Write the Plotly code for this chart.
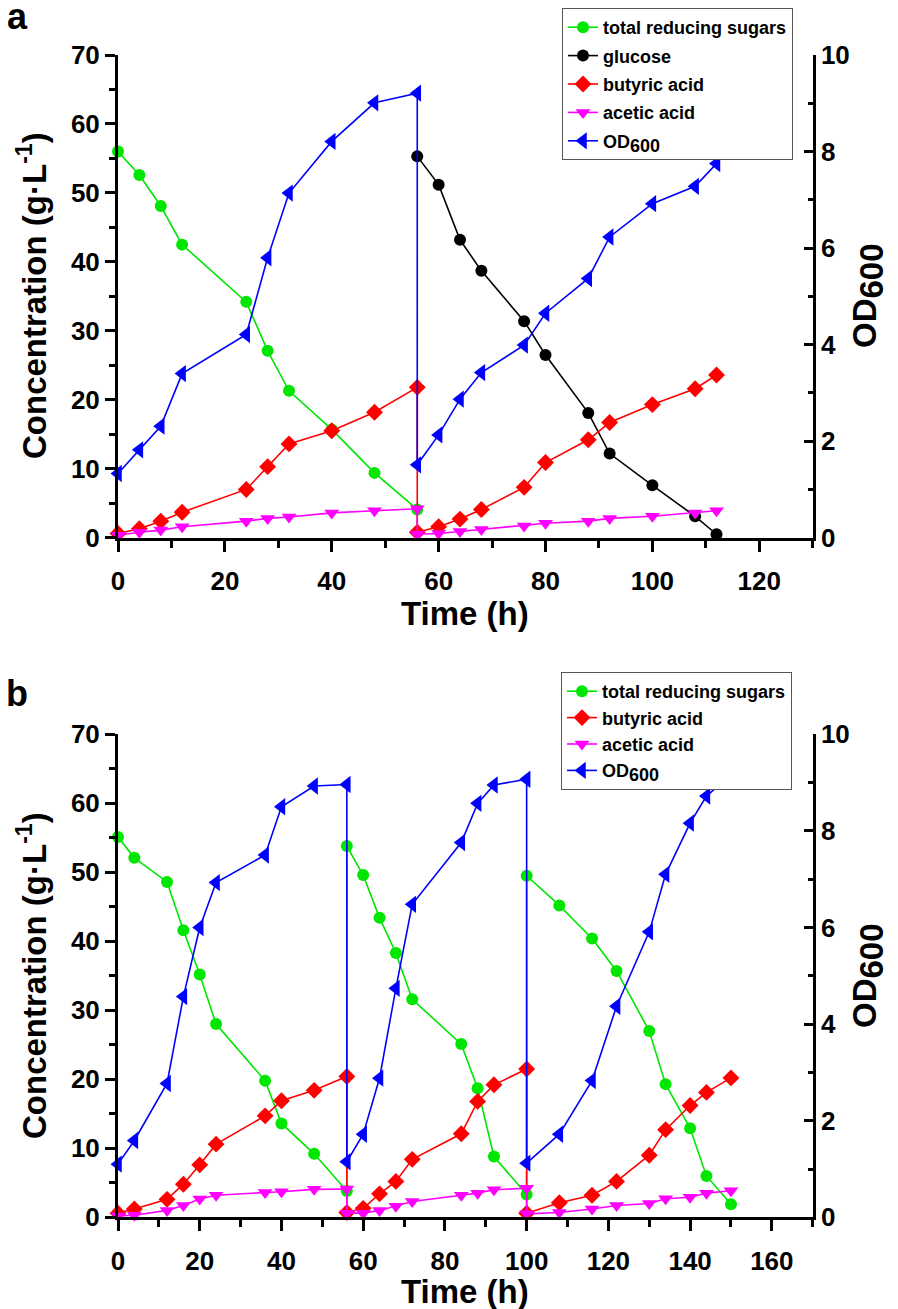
import plotly.graph_objects as go

###############################################################################
# Panel a data                                                                #
###############################################################################
t_sugar_a = [0, 4, 8, 12, 24, 28, 32, 40, 48, 56]
sugar_a = [56.0, 52.6, 48.1, 42.5, 34.2, 27.1, 21.3, 15.7, 9.4, 4.1]

t_glucose_a = [56, 60, 64, 68, 76, 80, 88, 92, 100, 108, 112]
glucose_a = [55.3, 51.2, 43.2, 38.7, 31.4, 26.5, 18.1, 12.2, 7.6, 3.1, 0.5]

t_a = [0, 4, 8, 12, 24, 28, 32, 40, 48, 56, 56, 60, 64, 68, 76, 80, 88, 92, 100, 108, 112]
butyric_a = [0.6, 1.3, 2.4, 3.7, 7.0, 10.3, 13.6, 15.5, 18.2, 21.8,
             0.8, 1.6, 2.7, 4.1, 7.3, 10.9, 14.2, 16.7, 19.3, 21.6, 23.6]
acetic_a = [0.35, 0.8, 1.1, 1.6, 2.4, 2.8, 3.0, 3.6, 3.9, 4.2,
            0.5, 0.6, 0.9, 1.2, 1.7, 2.1, 2.4, 2.8, 3.1, 3.6, 3.9]
od_a = [1.33, 1.82, 2.31, 3.40, 4.21, 5.80, 7.14, 8.21, 9.01, 9.21,
        1.51, 2.13, 2.87, 3.42, 3.99, 4.65, 5.37, 6.23, 6.92, 7.28, 7.75]

###############################################################################
# Panel b data                                                                #
###############################################################################
t_b = [0, 4, 12, 16, 20, 24, 36, 40, 48, 56,
       56, 60, 64, 68, 72, 84, 88, 92, 100,
       100, 108, 116, 122, 130, 134, 140, 144, 150]
sugar_b = [55.1, 52.1, 48.6, 41.6, 35.2, 28.0, 19.8, 13.6, 9.2, 3.8,
           53.8, 49.6, 43.4, 38.3, 31.6, 25.1, 18.7, 8.8, 3.3,
           49.5, 45.2, 40.4, 35.7, 27.0, 19.3, 12.9, 6.0, 1.9]
butyric_b = [0.6, 1.2, 2.6, 4.8, 7.6, 10.6, 14.7, 16.9, 18.4, 20.4,
             0.7, 1.3, 3.4, 5.2, 8.4, 12.1, 16.8, 19.2, 21.5,
             0.6, 2.1, 3.2, 5.2, 9.0, 12.7, 16.2, 18.1, 20.2]
acetic_b = [0.2, 0.3, 1.0, 1.7, 2.65, 3.2, 3.6, 3.7, 4.05, 4.1,
            0.6, 0.6, 1.0, 1.6, 2.3, 3.2, 3.5, 4.0, 4.2,
            0.5, 0.7, 1.2, 1.7, 2.0, 2.7, 2.9, 3.5, 3.85]
od_b = [1.10, 1.59, 2.77, 4.57, 6.00, 6.93, 7.50, 8.50, 8.93, 8.96,
        1.15, 1.72, 2.88, 4.74, 6.48, 7.76, 8.57, 8.95, 9.07,
        1.12, 1.72, 2.83, 4.37, 5.91, 7.10, 8.16, 8.72, 9.16]

GREEN = "rgb(0,230,0)"
FONT = "Arial, Liberation Sans, sans-serif"
OD_LEG = "OD<sub><span style='font-size:18px'>600</span></sub>"
OD_TITLE = "OD<sub><span style='font-size:33px'>600</span></sub>"

# the page body has an 8px margin, so the figure is drawn 8px in from the corner
OFF = 8
W, H = 898 - OFF, 1309 - OFF
def px_x(p):
    return (p - OFF) / W
def px_y(p):
    return 1 - (p - OFF) / H

fig = go.Figure()

def add(x, y, name, color, symbol, xa, ya, legend, size=12):
    fig.add_trace(go.Scatter(
        x=x, y=y, name=name, mode="lines+markers",
        line=dict(color=color, width=1.6),
        marker=dict(color=color, symbol=symbol, size=size),
        xaxis=xa, yaxis=ya, legend=legend, legendgroup=legend + name,
        cliponaxis=False))

# panel a
add(t_sugar_a, sugar_a, "total reducing sugars", GREEN, "circle", "x", "y", "legend")
add(t_glucose_a, glucose_a, "glucose", "black", "circle", "x", "y", "legend")
add(t_a, butyric_a, "butyric acid", "red", "diamond", "x", "y", "legend", 13)
add(t_a, acetic_a, "acetic acid", "magenta", "triangle-down", "x", "y", "legend", 13)
add(t_a, od_a, OD_LEG, "blue", "triangle-left", "x", "y2", "legend", 15)

# panel b
add(t_b, sugar_b, "total reducing sugars", GREEN, "circle", "x2", "y3", "legend2")
add(t_b, butyric_b, "butyric acid", "red", "diamond", "x2", "y3", "legend2", 13)
add(t_b, acetic_b, "acetic acid", "magenta", "triangle-down", "x2", "y3", "legend2", 13)
add(t_b, od_b, OD_LEG, "blue", "triangle-left", "x2", "y4", "legend2", 15)

tickfont = dict(family=FONT, size=26, color="black", weight="bold")
common = dict(showline=True, linewidth=3, linecolor="black", showgrid=False,
              zeroline=False, tickfont=tickfont, tickwidth=2.5, tickcolor="black",
              automargin=False)

x_dom = [px_x(118), px_x(812.7)]
a_dom = [px_y(537.7), px_y(55)]
b_dom = [px_y(1217.3), px_y(734.3)]

def xax(rng, anchor):
    return dict(common, domain=x_dom, range=rng, anchor=anchor, dtick=20,
                ticks="outside", ticklen=11, ticklabelstandoff=7,
                minor=dict(dtick=10, ticks="outside", ticklen=7, tickwidth=2.5, tickcolor="black"))

def yleft(dom, anchor):
    return dict(common, domain=dom, range=[0, 70], anchor=anchor, dtick=10,
                ticks="outside", ticklen=10,
                minor=dict(dtick=5, ticks="outside", ticklen=6, tickwidth=2.5, tickcolor="black"))

def yright(over, anchor):
    return dict(common, overlaying=over, side="right", range=[0, 10], anchor=anchor,
                dtick=2, ticks="inside", ticklen=9,
                minor=dict(dtick=1, ticks="inside", ticklen=5, tickwidth=2.5, tickcolor="black"))

legfont = dict(family=FONT, size=18, color="black", weight="bold")

fig.update_layout(
    width=W, height=H,
    margin=dict(l=0, r=0, t=0, b=0, autoexpand=False),
    paper_bgcolor="white", plot_bgcolor="white",
    font=dict(family=FONT, color="black"),
    xaxis=xax([0, 130], "y"),
    yaxis=yleft(a_dom, "x"),
    yaxis2=yright("y", "x"),
    xaxis2=xax([0, 170], "y3"),
    yaxis3=yleft(b_dom, "x2"),
    yaxis4=yright("y3", "x2"),
    legend=dict(x=px_x(562), y=1.0, xanchor="left", yanchor="top", tracegroupgap=2,
                bgcolor="white", bordercolor="#555", borderwidth=1, font=legfont),
    legend2=dict(x=px_x(561), y=px_y(672), xanchor="left", yanchor="top", tracegroupgap=0,
                 bgcolor="white", bordercolor="#555", borderwidth=1, font=legfont),
    showlegend=True,
)

title_font = dict(family=FONT, size=33, color="black", weight="bold")
letter_font = dict(family=FONT, size=36, color="black", weight="bold")
annos = []
for letter, mid in (("a", 17), ("b", 693)):
    annos.append(dict(text=letter, x=px_x(17), y=px_y(mid), xref="paper", yref="paper",
                      xanchor="center", yanchor="middle", showarrow=False, font=letter_font))
for mid, tcenter in ((296, 613), (976, 1291)):
    annos.append(dict(text="Concentration (g·L<sup>-1</sup>)", x=px_x(32), y=px_y(mid),
                      xref="paper", yref="paper", xanchor="center", yanchor="middle",
                      showarrow=False, textangle=-90, font=title_font))
    annos.append(dict(text=OD_TITLE, x=px_x(868), y=px_y(mid),
                      xref="paper", yref="paper", xanchor="center", yanchor="middle",
                      showarrow=False, textangle=-90, font=title_font))
    annos.append(dict(text="Time (h)", x=px_x(465), y=px_y(tcenter),
                      xref="paper", yref="paper", xanchor="center", yanchor="middle",
                      showarrow=False, font=title_font))
fig.update_layout(annotations=annos)

fig.write_html("out.html")
